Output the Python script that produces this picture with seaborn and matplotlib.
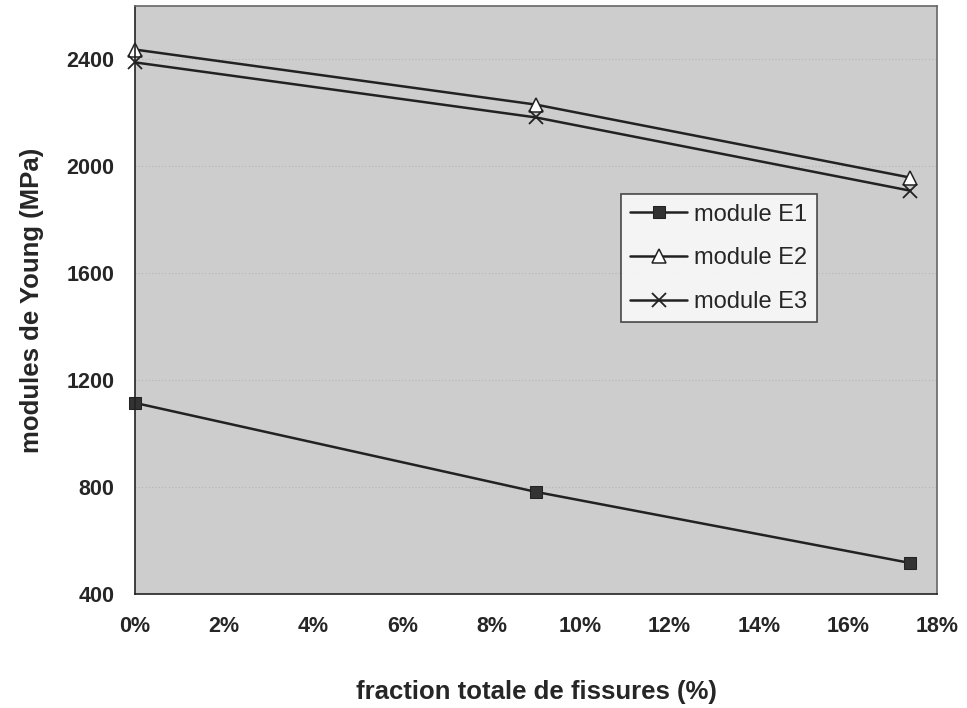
import matplotlib
matplotlib.use("Agg")
import matplotlib.pyplot as plt
import seaborn as sns
import pandas as pd
from matplotlib.ticker import PercentFormatter, MultipleLocator

# Données
fractions = [0.0, 0.09, 0.174]
module_e1 = [1115, 782, 516]
module_e2 = [2437, 2231, 1958]
module_e3 = [2389, 2183, 1909]
series_names = ["module E1", "module E2", "module E3"]

sns.set_style("white")
plt.rcParams['font.family'] = ['Liberation Sans', 'DejaVu Sans']

fig = plt.figure(figsize=(9.67, 7.08), dpi=100)
ax = fig.add_axes([135 / 967, 1 - 594 / 708, 802 / 967, 588 / 708])
ax.set_facecolor('#cdcdcd')

styles = {
    "module E1": dict(marker='s', markersize=8, markerfacecolor='#333333', markeredgecolor='#222222'),
    "module E2": dict(marker='^', markersize=10, markerfacecolor='white', markeredgecolor='#222222', markeredgewidth=1.1),
    "module E3": dict(marker='x', markersize=10, markeredgecolor='#222222', markeredgewidth=1.3),
}

for name, vals in zip(series_names, [module_e1, module_e2, module_e3]):
    df = pd.DataFrame({"x": fractions, "y": vals})
    sns.lineplot(data=df, x="x", y="y", ax=ax, color='#222222', linewidth=1.8,
                 label=name, clip_on=False, **styles[name])

ax.set_xlim(0, 0.18)
ax.set_ylim(400, 2600)
ax.xaxis.set_major_locator(MultipleLocator(0.02))
ax.xaxis.set_major_formatter(PercentFormatter(xmax=1, decimals=0))
ax.set_yticks([400, 800, 1200, 1600, 2000, 2400])
ax.grid(axis='y', color='#b5b5b5', linewidth=0.8, linestyle=(0, (1, 2)))

ax.tick_params(axis='both', direction='out', length=5, width=1, color='#222222',
               labelsize=15.5)
ax.tick_params(axis='x', pad=11)
ax.tick_params(axis='y', pad=10)
for lab in ax.get_xticklabels() + ax.get_yticklabels():
    lab.set_fontweight('bold')

for side in ['left', 'bottom']:
    ax.spines[side].set_color('#222222')
    ax.spines[side].set_linewidth(1.2)
for side in ['top', 'right']:
    ax.spines[side].set_color('#666666')
    ax.spines[side].set_linewidth(1.2)

ax.set_xlabel("fraction totale de fissures (%)", fontsize=18.5, fontweight='bold', labelpad=31)
ax.set_ylabel("modules de Young (MPa)", fontsize=18.5, fontweight='bold', labelpad=16)

leg = ax.legend(loc='upper left', bbox_to_anchor=(0.606, 0.68), frameon=True,
                fancybox=False, fontsize=17, handlelength=2.4, borderpad=0.4,
                labelspacing=0.92, handletextpad=0.3, borderaxespad=0)
leg.get_frame().set_facecolor('white')
leg.get_frame().set_edgecolor('#222222')
leg.get_frame().set_linewidth(1.2)

fig.savefig("out.png", dpi=100)
